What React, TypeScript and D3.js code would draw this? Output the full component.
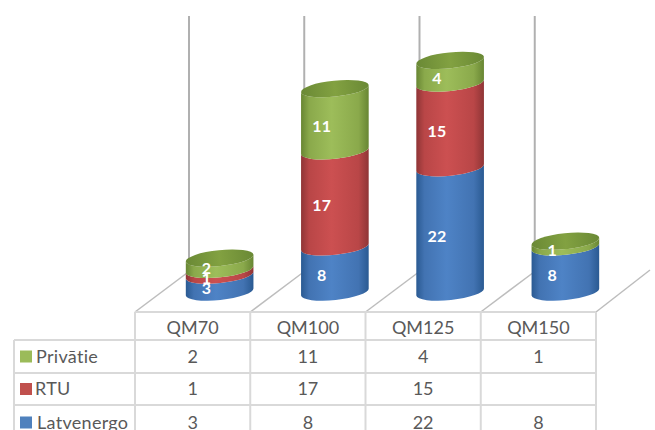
import React from "react";
import * as d3 from "d3";

const categories = ["QM70", "QM100", "QM125", "QM150"];
const seriesNames = ["Latvenergo", "RTU", "Privātie"];
const latvenergo = [3, 8, 22, 8];
const rtu = [1, 17, 15, null];
const privatie = [2, 11, 4, 1];
const seriesValues = [latvenergo, rtu, privatie];
const seriesEdge = ["#2a5a92", "#8f3536", "#688633"];
const seriesShade = ["#4273b2", "#b94647", "#8aa94b"];
const seriesMid = ["#4e83c6", "#cc5051", "#9dbd5a"];
const seriesSwatch = ["#4f81bd", "#c0504d", "#9bbb59"];
const topFaceEdge = "#6a8935";
const topFaceMid = "#82a141";

const W = 655;
const H = 430;
const tableLeft = 135;
const tableRight = 596;
const legendLeft = 14;
const rowLines = [312, 340, 373, 405, 440];
const floorBack = 273;
const wallTop = 16;
const depthX = 52;
const rx = 34;
const ry = 8;
const tiltDeg = -6;
const dx = rx * Math.cos((tiltDeg * Math.PI) / 180);
const dy = rx * Math.sin((tiltDeg * Math.PI) / 180);

const x = d3.scaleBand<string>().domain(categories).range([tableLeft, tableRight]);
const y = d3.scaleLinear().domain([0, 41]).range([292, 292 - 41 * 5.65]);
const barCenter = (c: string) => (x(c) as number) + x.bandwidth() / 2 + 27;
const labelCenter = (c: string) => barCenter(c) - 13;

const font = "Lato, 'Open Sans', sans-serif";
const textColor = "#595959";
const gridColor = "#d9d9d9";

// One stacked cylinder section: sagging front edge on top, rounded base below.
function segmentPath(cx: number, yBottom: number, yTop: number) {
  const arc = (toX: number, toY: number, sweep: number) =>
    `A${rx},${ry} ${tiltDeg} 0 ${sweep} ${toX},${toY}`;
  return (
    `M${cx - dx},${yTop - dy}` +
    arc(cx + dx, yTop + dy, 0) +
    `L${cx + dx},${yBottom + dy}` +
    arc(cx - dx, yBottom - dy, 1) +
    "Z"
  );
}

function Stack({ category, index }: { category: string; index: number }) {
  const cx = barCenter(category);
  let running = 0;
  const parts = seriesValues
    .map((values, s) => ({ value: values[index], s }))
    .filter((d) => d.value != null && d.value > 0)
    .map((d) => {
      const start = running;
      running += d.value as number;
      return { ...d, start, end: running };
    });
  const total = running;
  return (
    <g>
      {parts.map((d) => (
        <path
          key={d.s}
          d={segmentPath(cx, y(d.start), y(d.end))}
          fill={`url(#bar-${d.s})`}
        />
      ))}
      <ellipse
        cx={cx}
        cy={y(total)}
        rx={rx}
        ry={ry}
        transform={`rotate(${tiltDeg} ${cx} ${y(total)})`}
        fill="url(#bar-top)"
      />
      {parts.map((d, i) => {
        const nudge = index === 0 ? [-1, 1, -1][i] : 1;
        return (
          <text
            key={d.s}
            x={labelCenter(category)}
            y={y((d.start + d.end) / 2) + 11 + nudge}
            textAnchor="middle"
            fontFamily={font}
            fontWeight={700}
            fontSize={16}
            letterSpacing={0.4}
            fill="#ffffff"
          >
            {d.value}
          </text>
        );
      })}
    </g>
  );
}

export default function App() {
  const edges = [...categories.map((c) => x(c) as number), tableRight];
  const rows = [...seriesNames].reverse();
  const rowValues = [...seriesValues].reverse();
  const swatches = [...seriesSwatch].reverse();
  const rowMid = (i: number) => (rowLines[i + 1] + rowLines[i + 2]) / 2;

  return (
    <svg
      width={W}
      height={H}
      viewBox={`0 0 ${W} ${H}`}
      style={{ position: "absolute", left: 0, top: 0, background: "#ffffff" }}
    >
      <defs>
        {seriesEdge.map((edge, i) => (
          <linearGradient key={i} id={`bar-${i}`} x1="0" x2="1" y1="0" y2="0">
            <stop offset="0" stopColor={edge} />
            <stop offset="0.12" stopColor={seriesShade[i]} />
            <stop offset="0.45" stopColor={seriesMid[i]} />
            <stop offset="0.85" stopColor={seriesShade[i]} />
            <stop offset="1" stopColor={edge} />
          </linearGradient>
        ))}
        <linearGradient id="bar-top" x1="0" x2="1" y1="0" y2="0">
          <stop offset="0" stopColor={topFaceEdge} />
          <stop offset="0.5" stopColor={topFaceMid} />
          <stop offset="1" stopColor={topFaceEdge} />
        </linearGradient>
      </defs>

      {/* back wall verticals and floor diagonals */}
      {categories.map((c) => (
        <line
          key={c}
          x1={(x(c) as number) + depthX + 2}
          x2={(x(c) as number) + depthX + 2}
          y1={wallTop}
          y2={floorBack - 4}
          stroke="#b0b0b0"
          strokeWidth={2}
        />
      ))}
      {edges.map((e, i) => (
        <line
          key={i}
          x1={e}
          y1={rowLines[0]}
          x2={e + depthX + (i === edges.length - 1 ? 2 : 0)}
          y2={floorBack - (i === edges.length - 1 ? 3 : 0)}
          stroke="#bdbdbd"
          strokeWidth={1.5}
        />
      ))}

      {categories.map((c, i) => (
        <Stack key={c} category={c} index={i} />
      ))}

      {/* data table grid */}
      {rowLines.slice(0, 1).map((ly) => (
        <line key={ly} x1={tableLeft} x2={tableRight} y1={ly} y2={ly} stroke={gridColor} strokeWidth={2} />
      ))}
      {rowLines.slice(1, 4).map((ly) => (
        <line key={ly} x1={legendLeft} x2={tableRight} y1={ly} y2={ly} stroke={gridColor} strokeWidth={2} />
      ))}
      {edges.map((e, i) => (
        <line key={i} x1={e} x2={e} y1={rowLines[0]} y2={H} stroke={gridColor} strokeWidth={2} />
      ))}
      <line x1={legendLeft} x2={legendLeft} y1={rowLines[1]} y2={H} stroke={gridColor} strokeWidth={2} />

      {categories.map((c) => (
        <text
          key={c}
          x={(x(c) as number) + x.bandwidth() / 2}
          y={334}
          textAnchor="middle"
          fontFamily={font}
          fontSize={18}
          fill={textColor}
        >
          {c}
        </text>
      ))}

      {rows.map((name, i) => (
        <g key={name}>
          <rect x={20} y={rowMid(i) - 6} width={12} height={12} fill={swatches[i]} />
          <text
            x={name === "Latvenergo" ? 37 : name === "RTU" ? 35 : 36}
            y={rowMid(i) + 6}
            fontFamily={font}
            fontSize={18}
            letterSpacing={0.3}
            fill={textColor}
          >
            {name}
          </text>
          {rowValues[i].map((v, j) =>
            v == null ? null : (
              <text
                key={j}
                x={(x(categories[j]) as number) + x.bandwidth() / 2}
                y={rowMid(i) + 6}
                textAnchor="middle"
                fontFamily={font}
                fontSize={18}
                fill={textColor}
              >
                {v}
              </text>
            )
          )}
        </g>
      ))}
    </svg>
  );
}
